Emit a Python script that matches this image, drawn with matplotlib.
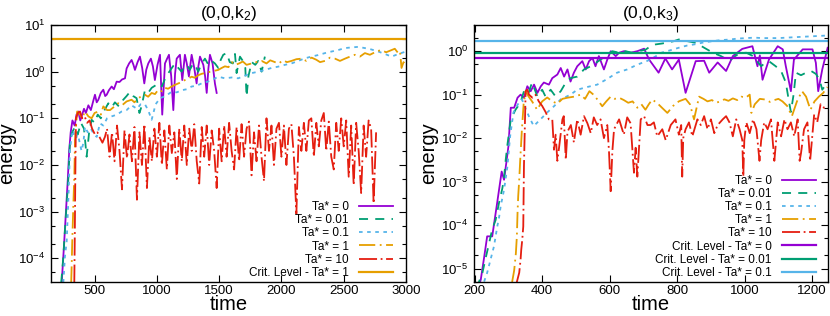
import matplotlib
matplotlib.use("Agg")
import matplotlib.pyplot as plt
from matplotlib.ticker import LogLocator, MultipleLocator, NullFormatter, LogFormatterSciNotation

plt.rcParams['font.family'] = ['Liberation Sans', 'DejaVu Sans']
plt.rcParams['mathtext.fontset'] = 'custom'
plt.rcParams['mathtext.rm'] = 'Liberation Sans'
plt.rcParams['mathtext.it'] = 'Liberation Sans:italic'
plt.rcParams['mathtext.bf'] = 'Liberation Sans:bold'
plt.rcParams['axes.unicode_minus'] = False

# ---------------- data: (0,0,k2) ----------------
k2_t_ta0 = [236, 255, 270, 285, 296, 308, 322, 340, 355, 369,
            385, 400, 415, 430, 450, 470, 490, 503, 517, 530,
            550, 570, 585, 597, 615, 637, 655, 677, 700, 720,
            744, 757, 777, 797, 812, 824, 845, 864, 882, 899,
            915, 931, 952, 968, 984, 1005, 1025, 1043, 1065, 1082,
            1097, 1115, 1132, 1146, 1159, 1172, 1185, 1204, 1225, 1240,
            1257, 1279, 1300, 1319, 1333, 1346, 1360, 1373, 1387, 1400,
            1414, 1426, 1447, 1466, 1480]
k2_e_ta0 = [3e-5, 2e-4, 1e-3, 5e-3, 0.02, 0.05, 0.09, 0.07, 0.12, 0.14,
            0.09, 0.12, 0.16, 0.13, 0.19, 0.15, 0.24, 0.32, 0.22, 0.25,
            0.35, 0.41, 0.3, 0.32, 0.4, 0.48, 0.42, 0.61, 0.6, 0.68,
            0.72, 1.17, 1.5, 1.78, 1.4, 1.09, 1.6, 2.1, 1.2, 0.56,
            1.1, 1.5, 1.9, 1.3, 0.66, 1.4, 2.3, 0.12, 1.5, 1.9,
            2.3, 0.8, 0.15, 0.9, 1.9, 2.1, 2.3, 0.66, 2.3, 1.5,
            0.79, 2.3, 1.2, 0.56, 1.3, 2.1, 1.7, 1.4, 0.8, 0.35,
            1.2, 2.3, 1.5, 0.56, 0.35]

k2_t_ta001 = [232, 248, 262, 276, 289, 303, 320, 343, 365, 390,
              415, 436, 456, 476, 500, 525, 550, 580, 610, 637,
              663, 695, 730, 757, 784, 810, 837, 860, 877, 904,
              930, 958, 985, 1011, 1040, 1065, 1092, 1120, 1146, 1172,
              1199, 1220, 1239, 1265, 1292, 1312, 1332, 1360, 1386, 1414,
              1440, 1466, 1493, 1513, 1533, 1560, 1585, 1610, 1627, 1640,
              1667, 1690, 1710, 1720, 1735, 1761, 1790, 1814, 1841, 1867]
k2_e_ta001 = [3e-5, 1e-4, 4e-4, 1.5e-3, 5e-3, 0.035, 0.05, 0.066, 0.045, 0.08,
              0.06, 0.015, 0.05, 0.093, 0.08, 0.12, 0.1, 0.15, 0.21, 0.17,
              0.22, 0.18, 0.25, 0.3, 0.37, 0.3, 0.27, 0.13, 0.18, 0.4,
              0.35, 0.45, 0.5, 0.56, 0.48, 0.7, 0.93, 1.2, 1.5, 1.2,
              1.0, 1.3, 1.4, 1.1, 1.5, 1.3, 1.0, 1.5, 1.9, 1.4,
              1.7, 1.5, 1.2, 1.8, 2.3, 2.5, 1.6, 1.5, 2.4, 0.93,
              2.1, 1.7, 1.2, 0.29, 0.8, 1.6, 1.4, 1.7, 1.0, 2.1]

k2_t_ta01 = [249, 262, 276, 290, 302, 315, 329, 345, 360, 375,
             395, 410, 423, 445, 470, 495, 517, 543, 570, 600,
             637, 680, 717, 757, 797, 840, 870, 904, 930, 958,
             990, 1025, 1070, 1118, 1160, 1199, 1240, 1279, 1320, 1359,
             1400, 1440, 1493, 1546, 1600, 1653, 1707, 1761, 1814, 1867,
             1920, 1974, 2028, 2081, 2135, 2188, 2240, 2295, 2350, 2402,
             2455, 2509, 2560, 2616, 2670, 2720, 2777, 2830, 2884, 2940,
             3000]
k2_e_ta01 = [3e-5, 1.1e-4, 2.3e-4, 2e-3, 0.021, 0.04, 0.056, 0.03, 0.045, 0.035,
             0.02, 0.03, 0.066, 0.05, 0.06, 0.045, 0.04, 0.078, 0.07, 0.1,
             0.11, 0.12, 0.14, 0.15, 0.19, 0.16, 0.2, 0.2, 0.15, 0.093,
             0.2, 0.27, 0.3, 0.37, 0.36, 0.4, 0.42, 0.48, 0.5, 0.56,
             0.6, 0.66, 0.78, 0.72, 0.75, 0.72, 0.82, 0.93, 1.0, 1.09,
             1.2, 1.28, 1.4, 1.5, 1.7, 1.93, 2.1, 2.27, 2.5, 2.7,
             2.9, 3.2, 3.3, 3.4, 3.2, 3.0, 2.7, 2.4, 2.1, 2.4,
             2.7]

k2_t_ta1 = [312, 316, 320, 329, 337, 343, 360, 383, 400, 423,
            450, 476, 500, 530, 550, 570, 600, 624, 660, 690,
            720, 757, 797, 820, 850, 880, 904, 930, 958, 985,
            1011, 1040, 1065, 1090, 1118, 1145, 1172, 1200, 1225, 1250,
            1279, 1305, 1333, 1360, 1386, 1414, 1440, 1466, 1493, 1520,
            1546, 1575, 1600, 1630, 1660, 1690, 1720, 1761, 1800, 1841,
            1880, 1910, 1948, 1980, 2010, 2045, 2081, 2120, 2162, 2200,
            2242, 2280, 2310, 2349, 2390, 2430, 2470, 2510, 2550, 2590,
            2630, 2670, 2710, 2750, 2780, 2804, 2840, 2884, 2910, 2937,
            2952, 2964, 2980, 2995]
k2_e_ta1 = [3e-5, 7e-5, 2e-4, 1.3e-3, 5.6e-3, 0.035, 0.14, 0.12, 0.1, 0.14,
            0.11, 0.1, 0.13, 0.14, 0.12, 0.18, 0.15, 0.15, 0.18, 0.21,
            0.19, 0.23, 0.25, 0.22, 0.27, 0.3, 0.32, 0.29, 0.35, 0.33,
            0.41, 0.38, 0.45, 0.43, 0.48, 0.52, 0.56, 0.6, 0.66, 0.7,
            0.78, 0.74, 0.84, 0.9, 0.93, 0.98, 1.0, 1.05, 1.09, 1.2,
            1.3, 1.25, 1.6, 1.4, 1.5, 1.65, 1.4, 1.5, 1.6, 1.7,
            1.5, 1.75, 1.6, 1.5, 1.75, 1.6, 1.7, 1.85, 1.9, 1.7,
            2.0, 1.8, 1.6, 1.7, 2.0, 1.9, 1.7, 1.9, 2.1, 2.3,
            2.1, 2.5, 2.3, 2.6, 2.8, 2.9, 2.6, 2.9, 3.1, 2.5,
            2.7, 1.2, 1.6, 1.4]

k2_t_ta10 = [337, 341, 345, 350, 365, 383, 400, 420, 440, 460,
             480, 503, 523, 543, 563, 583,
             600, 620, 640, 660, 680, 700, 720, 740, 760, 780,
             800, 820, 840, 860, 880, 900, 920, 940, 960, 980,
             1000, 1020, 1040, 1060, 1080, 1100, 1120, 1140, 1160, 1180,
             1200, 1220, 1240, 1260, 1280, 1300, 1320, 1340, 1360, 1380,
             1400, 1420, 1440, 1460, 1480, 1500, 1520, 1540, 1560, 1580,
             1600, 1620, 1640, 1660, 1680, 1700, 1720, 1740, 1760, 1780,
             1800, 1820, 1840, 1860, 1880, 1900, 1920, 1940, 1960, 1980,
             2000, 2020, 2040, 2060, 2080, 2100, 2120, 2140, 2160, 2180,
             2200, 2220, 2240, 2260, 2280, 2300, 2320, 2340, 2360, 2380,
             2400, 2420, 2440, 2460, 2480, 2500, 2520, 2540, 2560, 2580,
             2600, 2620, 2640, 2660, 2680, 2700, 2720, 2740, 2760]
k2_e_ta10 = [3e-5, 3e-4, 5e-3, 0.1, 0.13, 0.14, 0.1, 0.11, 0.08, 0.09,
             0.06, 0.045, 0.05, 0.038, 0.03, 0.04,
             0.06, 0.015, 0.05, 0.012, 0.07, 0.02, 0.003, 0.055, 0.014, 0.045,
             0.012, 0.065, 0.0018, 0.05, 0.01, 0.075, 0.0032, 0.04, 0.012, 0.06,
             0.015, 0.08, 0.01, 0.055, 0.008, 0.07, 0.018, 0.05, 0.005, 0.06,
             0.012, 0.07, 0.01, 0.06, 0.02, 0.075, 0.012, 0.004, 0.065, 0.015,
             0.07, 0.01, 0.055, 0.02, 0.0032, 0.06, 0.012, 0.07, 0.015, 0.08,
             0.02, 0.008, 0.065, 0.012, 0.075, 0.015, 0.06, 0.085, 0.006, 0.05,
             0.012, 0.07, 0.015, 0.0045, 0.1, 0.02, 0.07, 0.01, 0.06, 0.08,
             0.015, 0.07, 0.01, 0.06, 0.075, 0.015, 0.0009, 0.065, 0.02, 0.08,
             0.02, 0.09, 0.1, 0.015, 0.08, 0.025, 0.09, 0.13, 0.02, 0.085,
             0.015, 0.008, 0.08, 0.02, 0.1, 0.025, 0.09, 0.0056, 0.07, 0.0037,
             0.08, 0.02, 0.0025, 0.07, 0.015, 0.09, 0.06, 0.0015, 0.05]

k2_crit_ta1 = 5.0

# ---------------- data: (0,0,k3) ----------------
k3_t_ta0 = [212, 218, 228, 237, 252, 266, 280, 287, 295, 300,
            307, 317, 327, 336, 346, 356, 366, 376, 386, 396,
            405, 420, 430, 445, 455, 465, 475, 484, 494, 504,
            519, 529, 539, 549, 558, 568, 583, 593, 603, 618,
            628, 642, 662, 682, 702, 717, 745, 765, 785, 805,
            825, 855, 880, 895, 920, 945, 965, 993, 1023, 1038,
            1045, 1053, 1072, 1098, 1113, 1122, 1137, 1146, 1172, 1201,
            1211, 1218, 1230, 1246]
k3_e_ta0 = [4e-6, 5.5e-6, 1.8e-5, 5.5e-5, 5.5e-5, 3e-4, 1.7e-3, 1.1e-3, 3.2e-3, 6.5e-3,
            0.05, 0.05, 0.085, 0.1, 0.085, 0.156, 0.12, 0.17, 0.11, 0.156,
            0.19, 0.17, 0.24, 0.29, 0.41, 0.26, 0.38, 0.2, 0.32, 0.45,
            0.59, 0.38, 0.59, 0.7, 0.45, 0.77, 0.38, 0.64, 1.0, 0.77,
            0.92, 1.0, 0.92, 1.0, 1.14, 0.64, 0.32, 0.68, 0.38, 0.64,
            0.11, 0.59, 0.6, 0.32, 0.55, 0.35, 0.77, 1.13, 1.3, 0.45,
            0.8, 0.22, 0.64, 1.3, 1.1, 0.45, 0.12, 0.64, 1.1, 1.1,
            0.54, 0.12, 0.38, 1.2]

k3_t_ta001 = [208, 213, 223, 233, 243, 252, 262, 272, 282, 287,
              292, 297, 307, 321, 336, 346, 358, 370, 386, 400,
              410, 425, 440, 455, 470, 484, 504, 524, 544, 558,
              573, 588, 608, 628, 647, 667, 687, 707, 721, 736,
              755, 775, 790, 805, 830, 855, 880, 905, 930, 955,
              970, 985, 1005, 1025, 1049, 1062, 1073, 1092, 1108, 1122,
              1130, 1137, 1145, 1152, 1167, 1182, 1197, 1211, 1222, 1230,
              1245]
k3_e_ta001 = [3.5e-6, 5e-6, 8e-6, 1.8e-5, 3.9e-5, 8e-5, 1.3e-4, 3.2e-4, 7e-4, 1.2e-3,
              3.2e-3, 7e-3, 0.027, 0.045, 0.066, 0.12, 0.1, 0.19, 0.09, 0.13,
              0.09, 0.13, 0.09, 0.12, 0.19, 0.24, 0.26, 0.38, 0.45, 0.53,
              0.64, 0.77, 1.0, 0.92, 1.0, 0.92, 1.0, 1.09, 1.3, 1.43,
              1.5, 1.6, 1.7, 1.86, 1.7, 1.56, 1.2, 0.93, 0.77, 0.6,
              0.75, 0.9, 0.92, 0.77, 0.45, 0.55, 0.58, 0.45, 0.35, 0.19,
              0.08, 0.04, 0.1, 0.32, 0.28, 0.32, 0.35, 0.3, 0.22, 0.13,
              0.19]

k3_t_ta01 = [228, 237, 247, 257, 267, 272, 277, 287, 297, 305,
             315, 328, 340, 350, 362, 375, 395, 415, 435, 455,
             484, 504, 534, 563, 593, 622, 652, 682, 712, 735,
             755, 780, 805, 830, 855, 880, 905, 930, 955, 980,
             1005, 1030, 1050, 1075, 1101, 1125, 1150, 1175, 1200, 1225,
             1248]
k3_e_ta01 = [5e-6, 8e-6, 1.6e-5, 3.2e-5, 9.3e-5, 1.45e-4, 2.7e-4, 6.5e-4, 2.2e-3, 0.011,
             0.039, 0.06, 0.078, 0.05, 0.03, 0.019, 0.027, 0.039, 0.054, 0.078,
             0.1, 0.13, 0.15, 0.17, 0.23, 0.32, 0.38, 0.49, 0.6, 0.75,
             0.93, 1.05, 1.2, 1.35, 1.45, 1.6, 1.7, 1.8, 1.85, 1.95,
             2.0, 2.05, 2.0, 2.0, 2.0, 2.05, 2.1, 2.15, 2.2, 2.25,
             2.3]

k3_t_ta1 = [311, 317, 322, 325, 327, 329, 332, 335, 340, 345,
            351, 360, 370, 385, 400, 415, 430, 445, 460, 475,
            495, 514, 527, 540, 552, 565, 578, 590, 603, 615,
            628, 642, 655, 668, 682, 694, 706, 716, 726, 740,
            755, 771, 788, 805, 815, 825, 838, 850, 865, 878,
            890, 903, 915, 928, 940, 952, 965, 978, 990, 1003,
            1015, 1020, 1030, 1045, 1062, 1075, 1088, 1100, 1112, 1126,
            1140, 1155, 1170, 1182, 1195, 1207, 1220, 1233, 1245]
k3_e_ta1 = [4.9e-6, 9e-6, 2.2e-5, 5.5e-5, 1.9e-4, 4.6e-4, 1.1e-3, 3.2e-3, 0.016, 0.06,
            0.12, 0.09, 0.07, 0.045, 0.07, 0.086, 0.07, 0.062, 0.08, 0.085,
            0.09, 0.1, 0.08, 0.12, 0.1, 0.075, 0.054, 0.07, 0.09, 0.08,
            0.085, 0.075, 0.065, 0.07, 0.05, 0.06, 0.045, 0.06, 0.077, 0.065,
            0.05, 0.038, 0.055, 0.07, 0.075, 0.08, 0.06, 0.027, 0.09, 0.08,
            0.07, 0.075, 0.065, 0.07, 0.078, 0.072, 0.082, 0.075, 0.09, 0.085,
            0.1, 0.038, 0.06, 0.08, 0.077, 0.068, 0.075, 0.08, 0.07, 0.055,
            0.032, 0.07, 0.12, 0.09, 0.045, 0.07, 0.09, 0.11, 0.15]

k3_t_ta10 = [322, 332, 336, 338, 341, 344, 346, 351, 356, 361,
             371, 380, 390, 400, 410, 420, 430, 435, 440, 445,
             450, 460, 464, 470, 475, 485, 494, 504, 514, 524,
             534, 544, 553, 563, 573, 583, 593, 598, 603, 608,
             613, 628, 642, 652, 662, 672, 677, 682, 692, 702,
             712, 721, 731, 741, 756, 766, 781, 795, 805, 812,
             815, 818, 825, 835, 845, 860, 870, 880, 890, 900,
             910, 920, 935, 945, 955, 965, 975, 985, 993, 996,
             999, 1005, 1015, 1025, 1035, 1044, 1049, 1058, 1068, 1078,
             1088, 1098, 1108, 1118, 1127, 1137, 1147, 1157, 1163, 1167,
             1176, 1186, 1194, 1206, 1215, 1225, 1235, 1245]
k3_e_ta10 = [4e-6, 8e-6, 1.6e-5, 2.7e-5, 4.6e-5, 9.3e-5, 2.2e-3, 0.12, 0.13, 0.1,
             0.085, 0.1, 0.07, 0.055, 0.04, 0.027, 0.027, 5.4e-3, 0.012, 3e-3,
             6e-3, 0.027, 0.032, 3.2e-3, 0.014, 0.02, 8e-3, 0.027, 0.012, 0.032,
             0.022, 0.013, 0.03, 0.02, 0.027, 0.01, 0.02, 5e-3, 6e-4, 5e-3,
             0.016, 0.027, 0.012, 0.03, 0.022, 1.6e-3, 6e-3, 1.3e-3, 0.027, 0.032,
             0.02, 0.02, 0.023, 0.011, 0.016, 9e-3, 0.02, 0.027, 0.012, 0.02,
             1.3e-3, 0.01, 0.016, 0.023, 0.011, 0.027, 0.02, 0.032, 0.016, 0.027,
             0.013, 0.02, 0.027, 0.032, 0.023, 0.011, 0.027, 0.016, 9e-3, 1.3e-3,
             9e-3, 0.023, 0.013, 0.027, 0.016, 3e-3, 9e-3, 0.023, 0.016, 0.027,
             3e-3, 0.023, 0.011, 0.027, 0.016, 0.023, 0.011, 0.027, 3e-3, 4.5e-3,
             0.016, 0.023, 3e-3, 0.035, 0.023, 0.06, 0.05, 0.055]

k3_crit_ta0 = 0.68
k3_crit_ta001 = 0.9
k3_crit_ta01 = 1.67

# ---------------- styles ----------------
PURPLE = '#9400d3'
GREEN = '#009e73'
CYAN = '#56b4e9'
ORANGE = '#e69f00'
RED = '#e51e10'
LW = 1.3
CRIT_LW = 1.6

styles = {
    'ta0': dict(color=PURPLE, lw=LW, ls='-'),
    'ta001': dict(color=GREEN, lw=LW, ls=(0, (5, 4))),
    'ta01': dict(color=CYAN, lw=LW, ls=(0, (2, 2.5))),
    'ta1': dict(color=ORANGE, lw=LW, ls=(0, (9, 2.5, 1, 2.5))),
    'ta10': dict(color=RED, lw=LW, ls=(0, (10, 2, 1, 2))),
}

fig = plt.figure(figsize=(8.3, 3.16), dpi=100)
ax1 = fig.add_axes([51 / 830, 1 - 282 / 316, 355 / 830, 257 / 316])
ax2 = fig.add_axes([474 / 830, 1 - 282 / 316, 354 / 830, 257 / 316])

ax1.plot(k2_t_ta0, k2_e_ta0, label='Ta* = 0', **styles['ta0'])
ax1.plot(k2_t_ta001, k2_e_ta001, label='Ta* = 0.01', **styles['ta001'])
ax1.plot(k2_t_ta01, k2_e_ta01, label='Ta* = 0.1', **styles['ta01'])
ax1.plot(k2_t_ta1, k2_e_ta1, label='Ta* = 1', **styles['ta1'])
ax1.plot(k2_t_ta10, k2_e_ta10, label='Ta* = 10', **styles['ta10'])
ax1.axhline(k2_crit_ta1, color=ORANGE, lw=CRIT_LW, label='Crit. Level - Ta* = 1')

ax2.plot(k3_t_ta0, k3_e_ta0, label='Ta* = 0', **styles['ta0'])
ax2.plot(k3_t_ta001, k3_e_ta001, label='Ta* = 0.01', **styles['ta001'])
ax2.plot(k3_t_ta01, k3_e_ta01, label='Ta* = 0.1', **styles['ta01'])
ax2.plot(k3_t_ta1, k3_e_ta1, label='Ta* = 1', **styles['ta1'])
ax2.plot(k3_t_ta10, k3_e_ta10, label='Ta* = 10', **styles['ta10'])
ax2.axhline(k3_crit_ta0, color=PURPLE, lw=CRIT_LW, label='Crit. Level - Ta* = 0')
ax2.axhline(k3_crit_ta001, color=GREEN, lw=CRIT_LW, label='Crit. Level - Ta* = 0.01')
ax2.axhline(k3_crit_ta01, color=CYAN, lw=CRIT_LW, label='Crit. Level - Ta* = 0.1')

ax1.set_xlim(150, 3000)
ax1.set_ylim(3.1e-5, 10)
ax2.set_xlim(198, 1247)
ax2.set_ylim(4.9e-6, 4.0)

for ax, title, step in [(ax1, '(0,0,k$_2$)', 500), (ax2, '(0,0,k$_3$)', 200)]:
    ax.set_yscale('log')
    ax.xaxis.set_major_locator(MultipleLocator(step))
    ax.yaxis.set_major_locator(LogLocator(base=10, numticks=20))
    ax.yaxis.set_minor_locator(LogLocator(base=10, subs=(2, 5), numticks=20))
    ax.yaxis.set_major_formatter(LogFormatterSciNotation())
    ax.yaxis.set_minor_formatter(NullFormatter())
    ax.tick_params(which='both', direction='in', top=True, right=True,
                   labelsize=9.5, width=0.8)
    ax.tick_params(which='major', length=5, pad=4)
    ax.tick_params(axis='x', which='major', pad=2)
    ax.tick_params(which='minor', length=3)
    for sp in ax.spines.values():
        sp.set_linewidth(1.0)
    ax.set_title(title, fontsize=12.5, pad=5)
    ax.set_xlabel('time', fontsize=14.5, labelpad=-1)
    ax.set_ylabel('energy', fontsize=14.5)

ax1.yaxis.set_label_coords(-0.098, 0.5)
ax2.yaxis.set_label_coords(-0.101, 0.5)

leg_kw = dict(frameon=False, markerfirst=False, fontsize=8.5, handlelength=2.9,
              handletextpad=0.85, labelspacing=0.1, borderpad=0, borderaxespad=0,
              loc='lower right')
ax1.legend(bbox_to_anchor=(0.963, 0.012), **leg_kw)
ax2.legend(bbox_to_anchor=(0.966, 0.012), **leg_kw)

fig.savefig('out.png', dpi=100)
